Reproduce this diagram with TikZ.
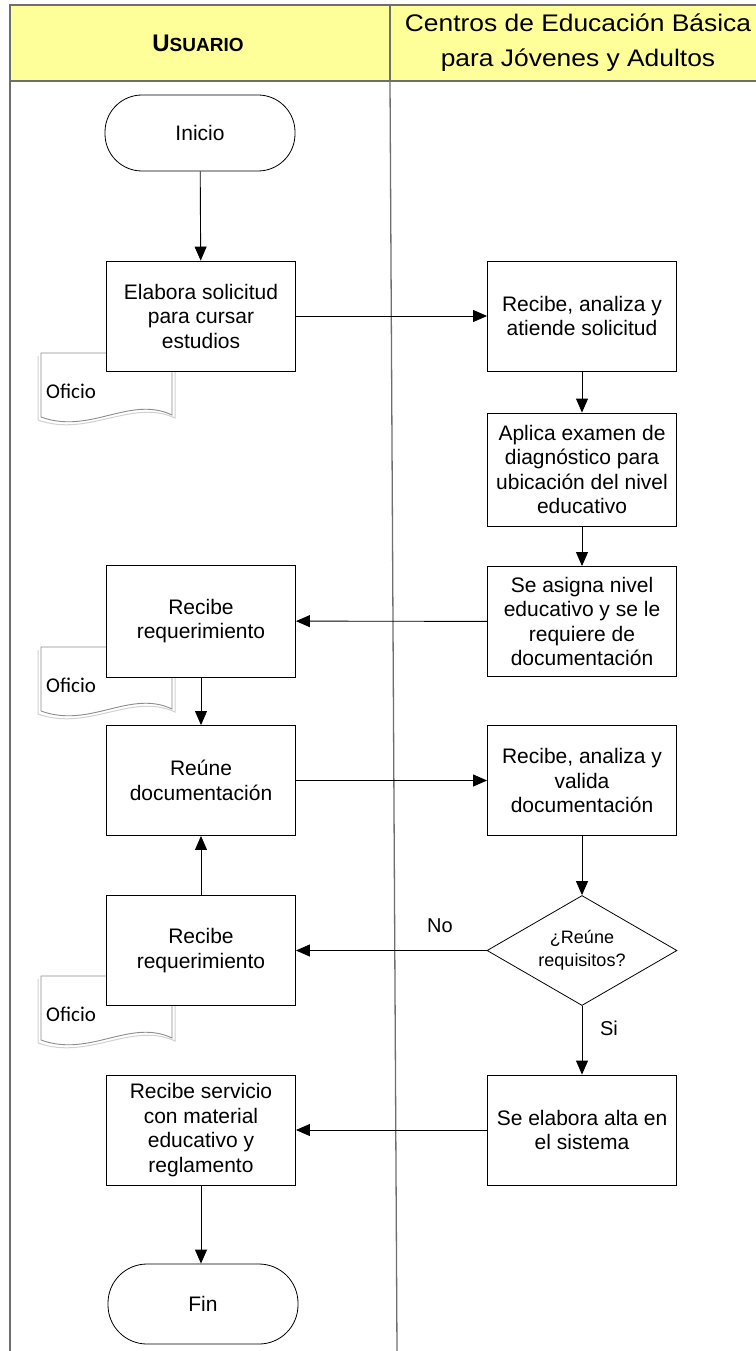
\documentclass[tikz,border=0pt]{standalone}
\usepackage{fontspec}
\setmainfont{Liberation Sans}
\newfontfamily\calfont{Carlito}
\usetikzlibrary{shapes.geometric,arrows.meta}
\definecolor{hdr}{HTML}{FFFF99}
\definecolor{lanegray}{HTML}{6E6E6E}
\definecolor{docgray}{HTML}{8C8C8C}
\begin{document}
\begin{tikzpicture}[x=1pt,y=-1pt,
  box/.style={draw=black, line width=0.9pt, fill=white, minimum width=189pt, minimum height=110pt,
    align=center, font=\fontsize{21}{24.5}\selectfont, inner sep=2pt},
  term/.style={draw=black, line width=0.8pt, fill=white, rounded corners=37pt, minimum width=190pt,
    minimum height=76pt, font=\fontsize{21}{24.5}\selectfont},
  dec/.style={diamond, draw=black, line width=0.8pt, fill=white, aspect=1.73, minimum width=190pt,
    minimum height=110pt, inner sep=0pt, align=center, font=\fontsize{18}{23}\selectfont},
  arr/.style={draw=black, line width=0.9pt, -{Triangle[length=14pt,width=12pt]}},
  lane/.style={draw=lanegray, line width=1.3pt},
  docshape/.style={draw=docgray, line width=0.9pt, fill=white},
  docshadow/.style={draw=black!18, line width=1pt},
  doctext/.style={font=\calfont\fontsize{21}{24}\selectfont, anchor=west, inner sep=0pt},
  lbl/.style={font=\fontsize{20}{24}\selectfont, inner sep=0pt},
]
\useasboundingbox (0,0) rectangle (755,1351);

% header and lanes
\fill[hdr] (10,5) rectangle (756,81);
\draw[lane] (756,5) -- (10,5) -- (10,1351);
\draw[lane] (10,81) -- (756,81);
\draw[lane] (390,5) -- (390,81);
\draw[lane] (390,81) -- (397,1351);
\node[font=\bfseries, inner sep=0pt] (husr) at (198,43) {\fontsize{24}{28}\selectfont U\fontsize{19}{28}\selectfont SUARIO};
\node[align=center, inner sep=0pt, font=\fontsize{24}{35}\selectfont] (hceb) at (578,43)
  {\scalebox{1.1}[1]{Centros de Educación Básica}\\\scalebox{1.1}[1]{para Jóvenes y Adultos}};

% documents (Oficio)
\foreach \dy/\nm in {0/a,294/b,623/c}{
  \begin{scope}[shift={(0,\dy)}]
    \draw[docshadow] (38,356) -- (38,420) .. controls (88,438) and (132,398) .. (175,418) -- (175,356);
    \draw[docshape] (41,353) -- (172,353) -- (172,415) .. controls (130,395) and (90,435) .. (41,417) -- cycle;
    \node[doctext] (of\nm) at (46,391) {Oficio};
  \end{scope}
}

% nodes
\node[term] (inicio) at (200,133) {Inicio};
\node[box] (elabora) at (201,316) {Elabora solicitud\\para cursar\\estudios};
\node[box] (atiende) at (582,316) {Recibe, analiza y\\atiende solicitud};
\node[box, minimum height=113pt] (aplica) at (582,469.5) {Aplica examen de\\diagnóstico para\\ubicación del nivel\\educativo};
\node[box] (asigna) at (582,621.5) {Se asigna nivel\\educativo y se le\\requiere de\\documentación};
\node[box, minimum height=112pt] (req1) at (201,621) {Recibe\\requerimiento};
\node[box] (reune) at (201,780.5) {Reúne\\documentación};
\node[box] (valida) at (582,780.5) {Recibe, analiza y\\valida\\documentación};
\node[dec] (reqs) at (582,950.5) {¿Reúne\\requisitos?};
\node[box] (req2) at (201,950.5) {Recibe\\requerimiento};
\node[box] (servicio) at (201,1130) {Recibe servicio\\con material\\educativo y\\reglamento};
\node[box] (alta) at (582,1130) {Se elabora alta en\\el sistema};
\node[term, minimum height=80pt, rounded corners=39pt] (fin) at (203,1304) {Fin};

% connectors
\draw[arr] (inicio) -- (elabora);
\draw[arr] (elabora) -- (atiende);
\draw[arr] (atiende) -- (aplica);
\draw[arr] (aplica) -- (asigna);
\draw[arr] (asigna) -- (req1);
\draw[arr] (req1) -- (reune);
\draw[arr] (reune) -- (valida);
\draw[arr] (valida) -- (reqs);
\draw[arr] (reqs) -- (req2);
\draw[arr] (req2) -- (reune);
\draw[arr] (reqs) -- (alta);
\draw[arr] (alta) -- (servicio);
\draw[arr] (servicio.south) -- (servicio.south |- fin.north);

% labels
\node[lbl] (lno) at (440,926) {No};
\node[lbl] (lsi) at (609,1028) {Si};
\end{tikzpicture}
\end{document}
